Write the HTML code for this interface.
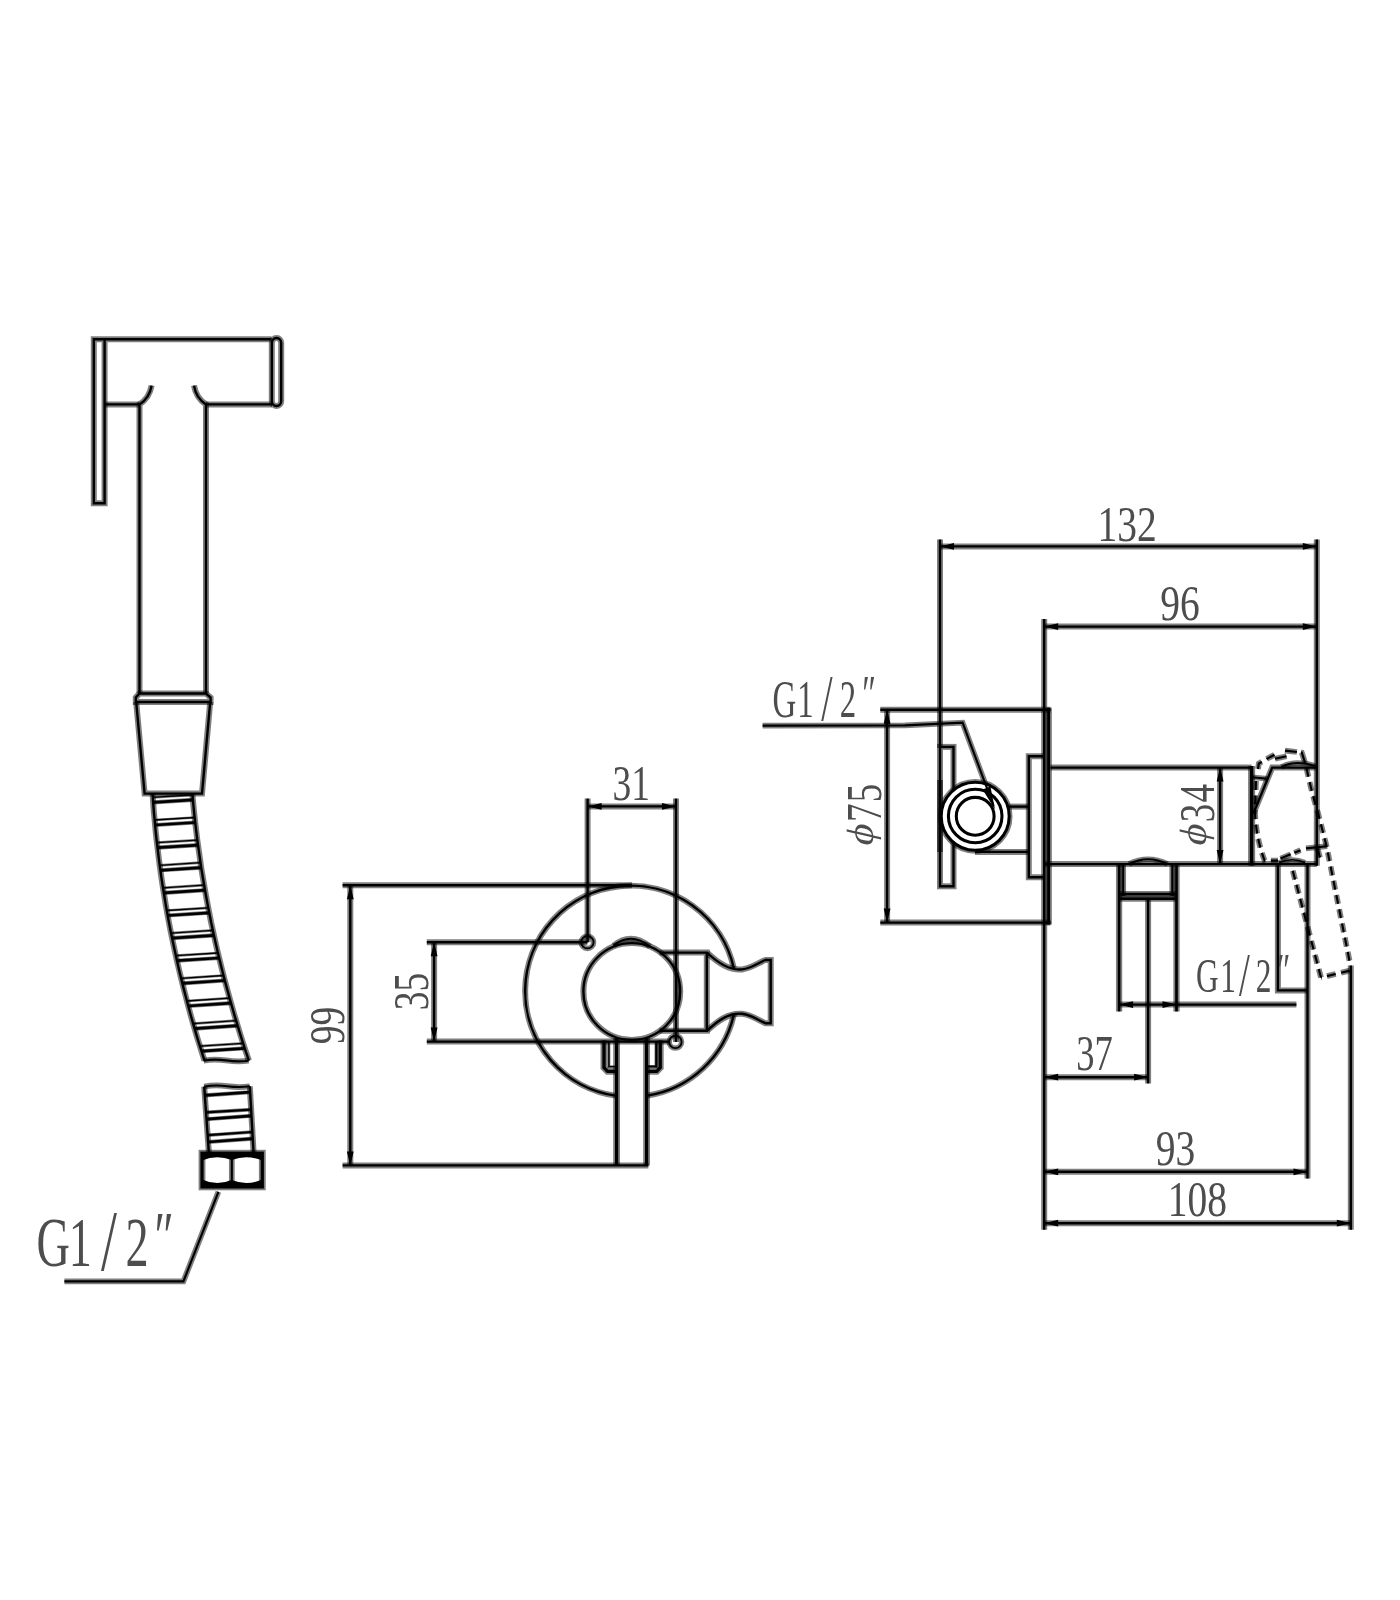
<!DOCTYPE html>
<html lang="en">
<head>
<meta charset="utf-8">
<title>Hygienic shower set – dimensional drawing</title>
<style>
html,body{margin:0;padding:0;background:#fff;}
body{width:1400px;height:1600px;overflow:hidden;}
svg{display:block;filter:grayscale(1);}
svg .h *{stroke-opacity:.5;}
svg line,svg path,svg rect,svg circle{fill:none;stroke:#000;stroke-linecap:butt;stroke-linejoin:miter;}
svg .a{fill:#000;stroke:none;}
svg text{font-family:"Liberation Serif","DejaVu Serif",serif;fill:#4d4d4d;stroke:none;}
</style>
</head>
<body>
<svg width="1400" height="1600" viewBox="0 0 1400 1600">
<rect x="0" y="0" width="1400" height="1600" style="fill:#fff;stroke:none"/>
<g class="h">
<path d="M271.5 339.2 L93.8 339.2 L93.8 503.2 L104.6 503.2 L104.6 339.2" stroke-width="6"/>
<line x1="104.6" y1="404.4" x2="139.5" y2="404.4" stroke-width="6"/>
<line x1="206" y1="404.4" x2="272" y2="404.4" stroke-width="6"/>
<rect x="271.8" y="338" width="9.4" height="68" rx="4.5" ry="5" stroke-width="6"/>
<path d="M151.6 385.6 Q149.5 398 139.5 404.4 L139.5 693" stroke-width="6"/>
<path d="M194 385.6 Q196 398 206 404.4 L206 693" stroke-width="6"/>
<path d="M139.5 693.5 L206 693.5 L210.6 697.5 L210.6 702 L135.8 702 L135.8 697.5 Z" stroke-width="6"/>
<path d="M136.2 702 L144.6 793.6 L202 793.6 L210.2 702" stroke-width="6"/>
<path d="M152.6 794 L153.2 803.2 L153.9 812.4 L154.8 821.6 L155.6 830.8 L156.6 840 L157.7 849.2 L158.8 858.4 L160 867.6 L161.3 876.8 L162.7 886 L164.2 895.2 L165.7 904.4 L167.3 913.6 L169 922.8 L170.8 931.9 L172.7 941.1 L174.7 950.3 L176.7 959.5 L178.8 968.7 L181 977.9 L183.3 987.1 L185.7 996.3 L188.1 1005.5 L190.6 1014.7 L193.2 1023.9 L195.9 1033.1 L198.7 1042.3 L201.6 1051.5 L204.5 1060.7" stroke-width="6"/>
<path d="M192.4 794 L193.2 803.2 L194.1 812.4 L195.1 821.6 L196.2 830.8 L197.3 840 L198.6 849.2 L199.9 858.4 L201.2 867.6 L202.7 876.8 L204.3 886 L205.9 895.2 L207.6 904.4 L209.4 913.6 L211.2 922.8 L213.2 931.9 L215.2 941.1 L217.3 950.3 L219.5 959.5 L221.8 968.7 L224.1 977.9 L226.6 987.1 L229.1 996.3 L231.7 1005.5 L234.3 1014.7 L237.1 1023.9 L239.9 1033.1 L242.8 1042.3 L245.8 1051.5 L248.9 1060.7" stroke-width="6"/>
<line x1="152.8" y1="797.4" x2="192.5" y2="794.9" stroke-width="2.72"/>
<line x1="153.2" y1="802.4" x2="192.9" y2="799.9" stroke-width="4.06"/>
<line x1="154.6" y1="820" x2="194.7" y2="817.5" stroke-width="2.72"/>
<line x1="155.1" y1="825" x2="195.2" y2="822.5" stroke-width="4.06"/>
<line x1="156.9" y1="842.6" x2="197.3" y2="840.1" stroke-width="2.72"/>
<line x1="157.5" y1="847.6" x2="198" y2="845.1" stroke-width="4.06"/>
<line x1="159.7" y1="865.3" x2="200.5" y2="862.6" stroke-width="2.72"/>
<line x1="160.4" y1="870.3" x2="201.3" y2="867.6" stroke-width="4.06"/>
<line x1="163" y1="887.9" x2="204.1" y2="885.2" stroke-width="2.72"/>
<line x1="163.8" y1="892.9" x2="205" y2="890.2" stroke-width="4.06"/>
<line x1="166.8" y1="910.5" x2="208.2" y2="907.8" stroke-width="2.72"/>
<line x1="167.7" y1="915.5" x2="209.2" y2="912.8" stroke-width="4.06"/>
<line x1="171.1" y1="933.1" x2="212.9" y2="930.4" stroke-width="2.72"/>
<line x1="172.1" y1="938.1" x2="213.9" y2="935.4" stroke-width="4.06"/>
<line x1="175.8" y1="955.7" x2="217.9" y2="953" stroke-width="2.72"/>
<line x1="177" y1="960.7" x2="219.1" y2="958" stroke-width="4.06"/>
<line x1="181.1" y1="978.4" x2="223.5" y2="975.5" stroke-width="2.72"/>
<line x1="182.3" y1="983.4" x2="224.8" y2="980.5" stroke-width="4.06"/>
<line x1="186.9" y1="1001" x2="229.6" y2="998.1" stroke-width="2.72"/>
<line x1="188.2" y1="1006" x2="231" y2="1003.1" stroke-width="4.06"/>
<line x1="193.1" y1="1023.6" x2="236.1" y2="1020.7" stroke-width="2.72"/>
<line x1="194.6" y1="1028.6" x2="237.6" y2="1025.7" stroke-width="4.06"/>
<line x1="199.9" y1="1046.2" x2="243.2" y2="1043.3" stroke-width="2.72"/>
<line x1="201.5" y1="1051.2" x2="244.8" y2="1048.3" stroke-width="4.06"/>
<path d="M203.6 1060.7 Q214 1058.6 226 1060.4 T248.6 1060.7" stroke-width="5.73"/>
<path d="M204.2 1086.6 Q215 1084.6 227 1086.2 T249.8 1086.3" stroke-width="5.73"/>
<line x1="204.2" y1="1086.6" x2="208.9" y2="1153" stroke-width="6"/>
<line x1="249.8" y1="1086.3" x2="253.6" y2="1153" stroke-width="6"/>
<line x1="204.8" y1="1095.4" x2="250.1" y2="1092.2" stroke-width="4.09"/>
<line x1="206" y1="1112.4" x2="251.1" y2="1109.6" stroke-width="3.6"/>
<line x1="206.5" y1="1119.2" x2="251.5" y2="1115.8" stroke-width="4.09"/>
<line x1="207.6" y1="1135.2" x2="252.4" y2="1132" stroke-width="3.6"/>
<line x1="208.1" y1="1142" x2="252.8" y2="1138.6" stroke-width="4.09"/>
<rect x="202" y="1153.2" width="60.3" height="33.7" stroke-width="6.81"/>
<line x1="231.8" y1="1156" x2="231.8" y2="1185" stroke-width="5.73"/>
<path d="M218.4 1191.8 L183.4 1281.4 L64.4 1281.4" stroke-width="5.73"/>
<path d="M646.6 1095.7 A105.6 105.6 0 0 0 734 1013.8" stroke-width="6"/>
<path d="M733.8 968.2 A105.6 105.6 0 1 0 616.6 1095.9" stroke-width="6"/>
<circle cx="631.8" cy="991.5" r="48.4" stroke-width="6"/>
<path d="M613.5 945.5 Q631 931.5 650 946.5" stroke-width="5.73"/>
<circle cx="587.4" cy="942.2" r="6.2" stroke-width="5.46"/>
<circle cx="675.4" cy="1041.9" r="6.2" stroke-width="5.46"/>
<path d="M659.6 952.6 L706.8 952.6 L706.8 1030.7 L659.5 1030.7" stroke-width="6"/>
<path d="M707.5 953 C718 963 729 970.8 742 969.4 C752 968.2 759 962.4 765.4 960 L770.7 960 L770.7 1023.2 L765.4 1023.2 C759 1020.8 752 1014.9 742 1013.8 C729 1012.4 718 1020.4 707.5 1030.4" stroke-width="6"/>
<line x1="616.6" y1="1038" x2="616.6" y2="1165.4" stroke-width="6.81"/>
<line x1="646.6" y1="1038" x2="646.6" y2="1165.4" stroke-width="6.81"/>
<path d="M604 1040.5 L604 1067.6 L607.6 1071.4 L616.6 1071.4" stroke-width="6.94"/>
<path d="M608.9 1041 L608.9 1066.6 L616.6 1066.6" stroke-width="2.85"/>
<path d="M660.2 1040.5 L660.2 1067.6 L656.6 1071.4 L646.6 1071.4" stroke-width="6.94"/>
<path d="M656.2 1041 L656.2 1066.6 L646.6 1066.6" stroke-width="3.39"/>
<line x1="587.6" y1="798.6" x2="587.6" y2="942.2" stroke-width="6"/>
<line x1="676" y1="798.6" x2="676" y2="1041.9" stroke-width="6"/>
<line x1="587.6" y1="806.4" x2="676" y2="806.4" stroke-width="6"/>
<line x1="342.6" y1="885.3" x2="632" y2="885.3" stroke-width="6"/>
<line x1="342.6" y1="1165.4" x2="648.4" y2="1165.4" stroke-width="6"/>
<line x1="350.3" y1="885.3" x2="350.3" y2="1165.4" stroke-width="6"/>
<line x1="426.8" y1="942.2" x2="587.4" y2="942.2" stroke-width="6"/>
<line x1="426.8" y1="1041.6" x2="669.4" y2="1041.6" stroke-width="6"/>
<line x1="434.1" y1="942.2" x2="434.1" y2="1041.6" stroke-width="6"/>
<line x1="1044.2" y1="619" x2="1044.2" y2="1229.8" stroke-width="6"/>
<line x1="1048.6" y1="707.8" x2="1048.6" y2="924.6" stroke-width="6.54"/>
<line x1="880.3" y1="709.8" x2="1050.6" y2="709.8" stroke-width="6"/>
<line x1="880.3" y1="922.6" x2="1050.6" y2="922.6" stroke-width="6"/>
<line x1="887.1" y1="709.8" x2="887.1" y2="922.6" stroke-width="6"/>
<rect x="940" y="746.9" width="13.5" height="139.4" stroke-width="6"/>
<line x1="940" y1="539.5" x2="940" y2="748" stroke-width="6"/>
<circle cx="975.2" cy="816.3" r="34" stroke-width="6.67" style="fill:#fff"/>
<line x1="940" y1="780" x2="940" y2="852" stroke-width="6"/>
<circle cx="975.2" cy="816" r="26.8" stroke-width="6.67"/>
<circle cx="975.2" cy="816.3" r="18.9" stroke-width="6.67"/>
<line x1="1009" y1="806.6" x2="1028.8" y2="806.6" stroke-width="6"/>
<line x1="975" y1="851.9" x2="1028.8" y2="851.9" stroke-width="6"/>
<path d="M1044.2 756.2 L1028.8 756.2 L1028.8 877.2 L1044.2 877.2" stroke-width="6"/>
<path d="M762.6 725.6 L905 725.4 L962.6 722.7 L993.6 806" stroke-width="5.73"/>
<line x1="1050.4" y1="767.6" x2="1251.6" y2="767.6" stroke-width="6"/>
<line x1="1044.2" y1="864.1" x2="1316.8" y2="864.1" stroke-width="6"/>
<line x1="1251.6" y1="766" x2="1251.6" y2="865.6" stroke-width="7.08"/>
<line x1="1220.1" y1="767.6" x2="1220.1" y2="864.1" stroke-width="6"/>
<line x1="1316.8" y1="539.5" x2="1316.8" y2="865.7" stroke-width="6"/>
<path d="M1316.8 767.6 L1272.2 767.6 L1253.4 813.5" stroke-width="6"/>
<line x1="1251.6" y1="777.2" x2="1267.8" y2="778.8" stroke-width="5.46"/>
<path d="M1281.5 767 Q1295 759.5 1315.5 766.2" stroke-width="5.46"/>
<path d="M1258 769 L1258.8 763.5 L1277.5 753" stroke-width="5.73" stroke-dasharray="9 5.5"/>
<path d="M1275 758.8 L1286.5 756.2" stroke-width="5.73"/>
<path d="M1285 750.6 L1301.8 752.6 L1305.6 764.5" stroke-width="5.73" stroke-dasharray="12 4"/>
<path d="M1306.5 768 Q1311 790 1318 813 L1326.4 845.5 L1350.4 965.2" stroke-width="5.73" stroke-dasharray="9 5.5"/>
<path d="M1349.8 970.6 L1321 977.6" stroke-width="5.73" stroke-dasharray="9 5.5"/>
<path d="M1321 977.6 L1291.5 866" stroke-width="5.73" stroke-dasharray="9 5.5"/>
<path d="M1256 781 L1255 812 Q1256 838 1264.6 860.6 L1278 860.6" stroke-width="5.73" stroke-dasharray="9 5.5"/>
<path d="M1280.5 858.6 L1300.5 850.2" stroke-width="5.73" stroke-dasharray="11 4"/>
<path d="M1306 848.4 L1327.2 846.2" stroke-width="5.73"/>
<path d="M1317.6 848.8 L1320 857.5" stroke-width="5.73"/>
<path d="M1277.9 864.1 L1277.9 990.4 L1307.5 990.4" stroke-width="6"/>
<line x1="1307.5" y1="864.1" x2="1307.5" y2="1178.4" stroke-width="6"/>
<path d="M1279 862.6 Q1292 857 1305 862.4" stroke-width="5.19"/>
<path d="M1128.8 864 Q1148 854.4 1167.6 864" stroke-width="5.46"/>
<line x1="1119.1" y1="864.1" x2="1119.1" y2="1011.4" stroke-width="6.27"/>
<line x1="1176.5" y1="864.1" x2="1176.5" y2="1011.4" stroke-width="6.27"/>
<line x1="1123.2" y1="864.1" x2="1123.2" y2="896" stroke-width="5.73"/>
<line x1="1172.3" y1="864.1" x2="1172.3" y2="896" stroke-width="5.73"/>
<line x1="1119.1" y1="894" x2="1176.5" y2="894" stroke-width="6"/>
<line x1="1119.1" y1="898.6" x2="1176.5" y2="898.6" stroke-width="6.54"/>
<line x1="1148.1" y1="898.6" x2="1148.1" y2="1083.4" stroke-width="6"/>
<line x1="1119.1" y1="1004.6" x2="1296.4" y2="1004.6" stroke-width="6"/>
<line x1="940" y1="546.4" x2="1316.8" y2="546.4" stroke-width="6"/>
<line x1="1044.2" y1="626.6" x2="1316.8" y2="626.6" stroke-width="6"/>
<line x1="1044.2" y1="1077.2" x2="1148.1" y2="1077.2" stroke-width="6"/>
<line x1="1044.2" y1="1171.8" x2="1307.5" y2="1171.8" stroke-width="6"/>
<line x1="1350.8" y1="965.5" x2="1350.8" y2="1229.8" stroke-width="6"/>
<line x1="1044.2" y1="1223.2" x2="1350.8" y2="1223.2" stroke-width="6"/>
</g>
<g class="c">
<path d="M271.5 339.2 L93.8 339.2 L93.8 503.2 L104.6 503.2 L104.6 339.2" stroke-width="2.4"/>
<line x1="104.6" y1="404.4" x2="139.5" y2="404.4" stroke-width="2.4"/>
<line x1="206" y1="404.4" x2="272" y2="404.4" stroke-width="2.4"/>
<rect x="271.8" y="338" width="9.4" height="68" rx="4.5" ry="5" stroke-width="2.4"/>
<path d="M151.6 385.6 Q149.5 398 139.5 404.4 L139.5 693" stroke-width="2.4"/>
<path d="M194 385.6 Q196 398 206 404.4 L206 693" stroke-width="2.4"/>
<path d="M139.5 693.5 L206 693.5 L210.6 697.5 L210.6 702 L135.8 702 L135.8 697.5 Z" stroke-width="2.4"/>
<path d="M136.2 702 L144.6 793.6 L202 793.6 L210.2 702" stroke-width="2.4"/>
<path d="M152.6 794 L153.2 803.2 L153.9 812.4 L154.8 821.6 L155.6 830.8 L156.6 840 L157.7 849.2 L158.8 858.4 L160 867.6 L161.3 876.8 L162.7 886 L164.2 895.2 L165.7 904.4 L167.3 913.6 L169 922.8 L170.8 931.9 L172.7 941.1 L174.7 950.3 L176.7 959.5 L178.8 968.7 L181 977.9 L183.3 987.1 L185.7 996.3 L188.1 1005.5 L190.6 1014.7 L193.2 1023.9 L195.9 1033.1 L198.7 1042.3 L201.6 1051.5 L204.5 1060.7" stroke-width="2.4"/>
<path d="M192.4 794 L193.2 803.2 L194.1 812.4 L195.1 821.6 L196.2 830.8 L197.3 840 L198.6 849.2 L199.9 858.4 L201.2 867.6 L202.7 876.8 L204.3 886 L205.9 895.2 L207.6 904.4 L209.4 913.6 L211.2 922.8 L213.2 931.9 L215.2 941.1 L217.3 950.3 L219.5 959.5 L221.8 968.7 L224.1 977.9 L226.6 987.1 L229.1 996.3 L231.7 1005.5 L234.3 1014.7 L237.1 1023.9 L239.9 1033.1 L242.8 1042.3 L245.8 1051.5 L248.9 1060.7" stroke-width="2.4"/>
<line x1="152.8" y1="797.4" x2="192.5" y2="794.9" stroke-width="1.32"/>
<line x1="153.2" y1="802.4" x2="192.9" y2="799.9" stroke-width="2.66"/>
<line x1="154.6" y1="820" x2="194.7" y2="817.5" stroke-width="1.32"/>
<line x1="155.1" y1="825" x2="195.2" y2="822.5" stroke-width="2.66"/>
<line x1="156.9" y1="842.6" x2="197.3" y2="840.1" stroke-width="1.32"/>
<line x1="157.5" y1="847.6" x2="198" y2="845.1" stroke-width="2.66"/>
<line x1="159.7" y1="865.3" x2="200.5" y2="862.6" stroke-width="1.32"/>
<line x1="160.4" y1="870.3" x2="201.3" y2="867.6" stroke-width="2.66"/>
<line x1="163" y1="887.9" x2="204.1" y2="885.2" stroke-width="1.32"/>
<line x1="163.8" y1="892.9" x2="205" y2="890.2" stroke-width="2.66"/>
<line x1="166.8" y1="910.5" x2="208.2" y2="907.8" stroke-width="1.32"/>
<line x1="167.7" y1="915.5" x2="209.2" y2="912.8" stroke-width="2.66"/>
<line x1="171.1" y1="933.1" x2="212.9" y2="930.4" stroke-width="1.32"/>
<line x1="172.1" y1="938.1" x2="213.9" y2="935.4" stroke-width="2.66"/>
<line x1="175.8" y1="955.7" x2="217.9" y2="953" stroke-width="1.32"/>
<line x1="177" y1="960.7" x2="219.1" y2="958" stroke-width="2.66"/>
<line x1="181.1" y1="978.4" x2="223.5" y2="975.5" stroke-width="1.32"/>
<line x1="182.3" y1="983.4" x2="224.8" y2="980.5" stroke-width="2.66"/>
<line x1="186.9" y1="1001" x2="229.6" y2="998.1" stroke-width="1.32"/>
<line x1="188.2" y1="1006" x2="231" y2="1003.1" stroke-width="2.66"/>
<line x1="193.1" y1="1023.6" x2="236.1" y2="1020.7" stroke-width="1.32"/>
<line x1="194.6" y1="1028.6" x2="237.6" y2="1025.7" stroke-width="2.66"/>
<line x1="199.9" y1="1046.2" x2="243.2" y2="1043.3" stroke-width="1.32"/>
<line x1="201.5" y1="1051.2" x2="244.8" y2="1048.3" stroke-width="2.66"/>
<path d="M203.6 1060.7 Q214 1058.6 226 1060.4 T248.6 1060.7" stroke-width="2.13"/>
<path d="M204.2 1086.6 Q215 1084.6 227 1086.2 T249.8 1086.3" stroke-width="2.13"/>
<line x1="204.2" y1="1086.6" x2="208.9" y2="1153" stroke-width="2.4"/>
<line x1="249.8" y1="1086.3" x2="253.6" y2="1153" stroke-width="2.4"/>
<line x1="204.8" y1="1095.4" x2="250.1" y2="1092.2" stroke-width="2.69"/>
<line x1="206" y1="1112.4" x2="251.1" y2="1109.6" stroke-width="2.2"/>
<line x1="206.5" y1="1119.2" x2="251.5" y2="1115.8" stroke-width="2.69"/>
<line x1="207.6" y1="1135.2" x2="252.4" y2="1132" stroke-width="2.2"/>
<line x1="208.1" y1="1142" x2="252.8" y2="1138.6" stroke-width="2.69"/>
<rect x="202" y="1153.2" width="60.3" height="33.7" stroke-width="3.21"/>
<line x1="231.8" y1="1156" x2="231.8" y2="1185" stroke-width="2.13"/>
<path class="a" d="M202 1153 L202 1160.6 Q216.5 1154.4 231.8 1160 Q247 1154.4 262.3 1160.6 L262.3 1153 Z"/>
<path class="a" d="M202 1187 L202 1179.4 Q216.5 1186.2 231.8 1180 Q247 1186.2 262.3 1179.4 L262.3 1187 Z"/>
<path d="M218.4 1191.8 L183.4 1281.4 L64.4 1281.4" stroke-width="2.13"/>
<text transform="translate(36.4 1265.5) scale(0.66 1)" font-size="70" text-anchor="start" dx="0 -1.4 13.7 13.1 8.9" dy="0 0 4.5 -4.5 -6">G1<tspan font-size="86.8">/</tspan>2″</text>
<path d="M646.6 1095.7 A105.6 105.6 0 0 0 734 1013.8" stroke-width="2.4"/>
<path d="M733.8 968.2 A105.6 105.6 0 1 0 616.6 1095.9" stroke-width="2.4"/>
<circle cx="631.8" cy="991.5" r="48.4" stroke-width="2.4"/>
<path d="M613.5 945.5 Q631 931.5 650 946.5" stroke-width="2.13"/>
<circle cx="587.4" cy="942.2" r="6.2" stroke-width="1.86"/>
<circle cx="675.4" cy="1041.9" r="6.2" stroke-width="1.86"/>
<path d="M659.6 952.6 L706.8 952.6 L706.8 1030.7 L659.5 1030.7" stroke-width="2.4"/>
<path d="M707.5 953 C718 963 729 970.8 742 969.4 C752 968.2 759 962.4 765.4 960 L770.7 960 L770.7 1023.2 L765.4 1023.2 C759 1020.8 752 1014.9 742 1013.8 C729 1012.4 718 1020.4 707.5 1030.4" stroke-width="2.4"/>
<line x1="616.6" y1="1038" x2="616.6" y2="1165.4" stroke-width="3.21"/>
<line x1="646.6" y1="1038" x2="646.6" y2="1165.4" stroke-width="3.21"/>
<path d="M604 1040.5 L604 1067.6 L607.6 1071.4 L616.6 1071.4" stroke-width="3.34"/>
<path d="M608.9 1041 L608.9 1066.6 L616.6 1066.6" stroke-width="1.45"/>
<path d="M660.2 1040.5 L660.2 1067.6 L656.6 1071.4 L646.6 1071.4" stroke-width="3.34"/>
<path d="M656.2 1041 L656.2 1066.6 L646.6 1066.6" stroke-width="1.99"/>
<line x1="587.6" y1="798.6" x2="587.6" y2="942.2" stroke-width="2.4"/>
<line x1="676" y1="798.6" x2="676" y2="1041.9" stroke-width="2.4"/>
<line x1="587.6" y1="806.4" x2="676" y2="806.4" stroke-width="2.4"/>
<polygon class="a" points="587.6,806.4 601.6,803 601.6,809.8"/>
<polygon class="a" points="676,806.4 662,809.8 662,803"/>
<text transform="translate(631.3 799.6) scale(0.75 1)" font-size="50" text-anchor="middle">31</text>
<line x1="342.6" y1="885.3" x2="632" y2="885.3" stroke-width="2.4"/>
<line x1="342.6" y1="1165.4" x2="648.4" y2="1165.4" stroke-width="2.4"/>
<line x1="350.3" y1="885.3" x2="350.3" y2="1165.4" stroke-width="2.4"/>
<polygon class="a" points="350.3,885.3 353.7,899.3 346.9,899.3"/>
<polygon class="a" points="350.3,1165.4 346.9,1151.4 353.7,1151.4"/>
<text transform="translate(343.8 1025.4) rotate(-90) scale(0.75 1)" font-size="50" text-anchor="middle">99</text>
<line x1="426.8" y1="942.2" x2="587.4" y2="942.2" stroke-width="2.4"/>
<line x1="426.8" y1="1041.6" x2="669.4" y2="1041.6" stroke-width="2.4"/>
<line x1="434.1" y1="942.2" x2="434.1" y2="1041.6" stroke-width="2.4"/>
<polygon class="a" points="434.1,942.2 437.5,956.2 430.7,956.2"/>
<polygon class="a" points="434.1,1041.6 430.7,1027.6 437.5,1027.6"/>
<text transform="translate(427.6 991.5) rotate(-90) scale(0.75 1)" font-size="50" text-anchor="middle">35</text>
<line x1="1044.2" y1="619" x2="1044.2" y2="1229.8" stroke-width="2.4"/>
<line x1="1048.6" y1="707.8" x2="1048.6" y2="924.6" stroke-width="2.94"/>
<line x1="880.3" y1="709.8" x2="1050.6" y2="709.8" stroke-width="2.4"/>
<line x1="880.3" y1="922.6" x2="1050.6" y2="922.6" stroke-width="2.4"/>
<line x1="887.1" y1="709.8" x2="887.1" y2="922.6" stroke-width="2.4"/>
<polygon class="a" points="887.1,709.8 890.5,723.8 883.7,723.8"/>
<polygon class="a" points="887.1,922.6 883.7,908.6 890.5,908.6"/>
<g><text transform="translate(880.8 844.2) rotate(-90) translate(-3.2 -7.6) skewX(-13) scale(0.84 0.76)" font-size="50" text-anchor="start">ϕ</text><text transform="translate(880.8 822) rotate(-90) scale(0.74 1)" font-size="50" text-anchor="start" letter-spacing="1.6">75</text></g>
<rect x="940" y="746.9" width="13.5" height="139.4" stroke-width="2.4"/>
<line x1="940" y1="539.5" x2="940" y2="748" stroke-width="2.4"/>
<circle cx="975.2" cy="816.3" r="34" stroke-width="3.07" style="fill:#fff"/>
<line x1="940" y1="780" x2="940" y2="852" stroke-width="2.4"/>
<circle cx="975.2" cy="816" r="26.8" stroke-width="3.07"/>
<circle cx="975.2" cy="816.3" r="18.9" stroke-width="3.07"/>
<line x1="1009" y1="806.6" x2="1028.8" y2="806.6" stroke-width="2.4"/>
<line x1="975" y1="851.9" x2="1028.8" y2="851.9" stroke-width="2.4"/>
<path d="M1044.2 756.2 L1028.8 756.2 L1028.8 877.2 L1044.2 877.2" stroke-width="2.4"/>
<path d="M762.6 725.6 L905 725.4 L962.6 722.7 L993.6 806" stroke-width="2.13"/>
<polygon class="a" points="995,809.5 982.6,789.6 990.4,786.6"/>
<text transform="translate(772.5 716.6) scale(0.62 1)" font-size="53" text-anchor="start" dx="0 1.8 12.2 11.5 9.6" dy="0 0 3.6 -3.6 -5">G1<tspan font-size="65.7">/</tspan>2″</text>
<line x1="1050.4" y1="767.6" x2="1251.6" y2="767.6" stroke-width="2.4"/>
<line x1="1044.2" y1="864.1" x2="1316.8" y2="864.1" stroke-width="2.4"/>
<line x1="1251.6" y1="766" x2="1251.6" y2="865.6" stroke-width="3.48"/>
<line x1="1220.1" y1="767.6" x2="1220.1" y2="864.1" stroke-width="2.4"/>
<polygon class="a" points="1220.1,767.6 1223.5,781.6 1216.7,781.6"/>
<polygon class="a" points="1220.1,864.1 1216.7,850.1 1223.5,850.1"/>
<g><text transform="translate(1213.6 844.4) rotate(-90) translate(-3.2 -7.6) skewX(-13) scale(0.84 0.76)" font-size="50" text-anchor="start">ϕ</text><text transform="translate(1213.6 822.2) rotate(-90) scale(0.74 1)" font-size="50" text-anchor="start" letter-spacing="1.6">34</text></g>
<line x1="1316.8" y1="539.5" x2="1316.8" y2="865.7" stroke-width="2.4"/>
<path d="M1316.8 767.6 L1272.2 767.6 L1253.4 813.5" stroke-width="2.4"/>
<line x1="1251.6" y1="777.2" x2="1267.8" y2="778.8" stroke-width="1.86"/>
<path d="M1281.5 767 Q1295 759.5 1315.5 766.2" stroke-width="1.86"/>
<path d="M1258 769 L1258.8 763.5 L1277.5 753" stroke-width="2.13" stroke-dasharray="9 5.5"/>
<path d="M1275 758.8 L1286.5 756.2" stroke-width="2.13"/>
<path d="M1285 750.6 L1301.8 752.6 L1305.6 764.5" stroke-width="2.13" stroke-dasharray="12 4"/>
<path d="M1306.5 768 Q1311 790 1318 813 L1326.4 845.5 L1350.4 965.2" stroke-width="2.13" stroke-dasharray="9 5.5"/>
<path d="M1349.8 970.6 L1321 977.6" stroke-width="2.13" stroke-dasharray="9 5.5"/>
<path d="M1321 977.6 L1291.5 866" stroke-width="2.13" stroke-dasharray="9 5.5"/>
<path d="M1256 781 L1255 812 Q1256 838 1264.6 860.6 L1278 860.6" stroke-width="2.13" stroke-dasharray="9 5.5"/>
<path d="M1280.5 858.6 L1300.5 850.2" stroke-width="2.13" stroke-dasharray="11 4"/>
<path d="M1306 848.4 L1327.2 846.2" stroke-width="2.13"/>
<path d="M1317.6 848.8 L1320 857.5" stroke-width="2.13"/>
<path d="M1277.9 864.1 L1277.9 990.4 L1307.5 990.4" stroke-width="2.4"/>
<line x1="1307.5" y1="864.1" x2="1307.5" y2="1178.4" stroke-width="2.4"/>
<path d="M1279 862.6 Q1292 857 1305 862.4" stroke-width="1.59"/>
<path d="M1128.8 864 Q1148 854.4 1167.6 864" stroke-width="1.86"/>
<line x1="1119.1" y1="864.1" x2="1119.1" y2="1011.4" stroke-width="2.67"/>
<line x1="1176.5" y1="864.1" x2="1176.5" y2="1011.4" stroke-width="2.67"/>
<line x1="1123.2" y1="864.1" x2="1123.2" y2="896" stroke-width="2.13"/>
<line x1="1172.3" y1="864.1" x2="1172.3" y2="896" stroke-width="2.13"/>
<line x1="1119.1" y1="894" x2="1176.5" y2="894" stroke-width="2.4"/>
<line x1="1119.1" y1="898.6" x2="1176.5" y2="898.6" stroke-width="2.94"/>
<line x1="1148.1" y1="898.6" x2="1148.1" y2="1083.4" stroke-width="2.4"/>
<line x1="1119.1" y1="1004.6" x2="1296.4" y2="1004.6" stroke-width="2.4"/>
<polygon class="a" points="1119.1,1004.6 1133.1,1001.2 1133.1,1008"/>
<polygon class="a" points="1176.5,1004.6 1162.5,1008 1162.5,1001.2"/>
<text transform="translate(1196.1 991.8) scale(0.64 1)" font-size="49" text-anchor="start" dx="0 2.3 4.8 9.3 9.2" dy="0 0 3.4 -3.4 -4.5">G1<tspan font-size="60.8">/</tspan>2″</text>
<line x1="940" y1="546.4" x2="1316.8" y2="546.4" stroke-width="2.4"/>
<polygon class="a" points="940,546.4 954,543 954,549.8"/>
<polygon class="a" points="1316.8,546.4 1302.8,549.8 1302.8,543"/>
<text transform="translate(1127 540.6) scale(0.79 1)" font-size="50" text-anchor="middle">132</text>
<line x1="1044.2" y1="626.6" x2="1316.8" y2="626.6" stroke-width="2.4"/>
<polygon class="a" points="1044.2,626.6 1058.2,623.2 1058.2,630"/>
<polygon class="a" points="1316.8,626.6 1302.8,630 1302.8,623.2"/>
<text transform="translate(1180 619.8) scale(0.79 1)" font-size="50" text-anchor="middle">96</text>
<line x1="1044.2" y1="1077.2" x2="1148.1" y2="1077.2" stroke-width="2.4"/>
<polygon class="a" points="1044.2,1077.2 1058.2,1073.8 1058.2,1080.6"/>
<polygon class="a" points="1148.1,1077.2 1134.1,1080.6 1134.1,1073.8"/>
<text transform="translate(1094.6 1070.3) scale(0.73 1)" font-size="50" text-anchor="middle">37</text>
<line x1="1044.2" y1="1171.8" x2="1307.5" y2="1171.8" stroke-width="2.4"/>
<polygon class="a" points="1044.2,1171.8 1058.2,1168.4 1058.2,1175.2"/>
<polygon class="a" points="1307.5,1171.8 1293.5,1175.2 1293.5,1168.4"/>
<text transform="translate(1175.6 1164.7) scale(0.79 1)" font-size="50" text-anchor="middle">93</text>
<line x1="1350.8" y1="965.5" x2="1350.8" y2="1229.8" stroke-width="2.4"/>
<line x1="1044.2" y1="1223.2" x2="1350.8" y2="1223.2" stroke-width="2.4"/>
<polygon class="a" points="1044.2,1223.2 1058.2,1219.8 1058.2,1226.6"/>
<polygon class="a" points="1350.8,1223.2 1336.8,1226.6 1336.8,1219.8"/>
<text transform="translate(1197.4 1216.1) scale(0.79 1)" font-size="50" text-anchor="middle">108</text>
</g>
</svg>
</body>
</html>
